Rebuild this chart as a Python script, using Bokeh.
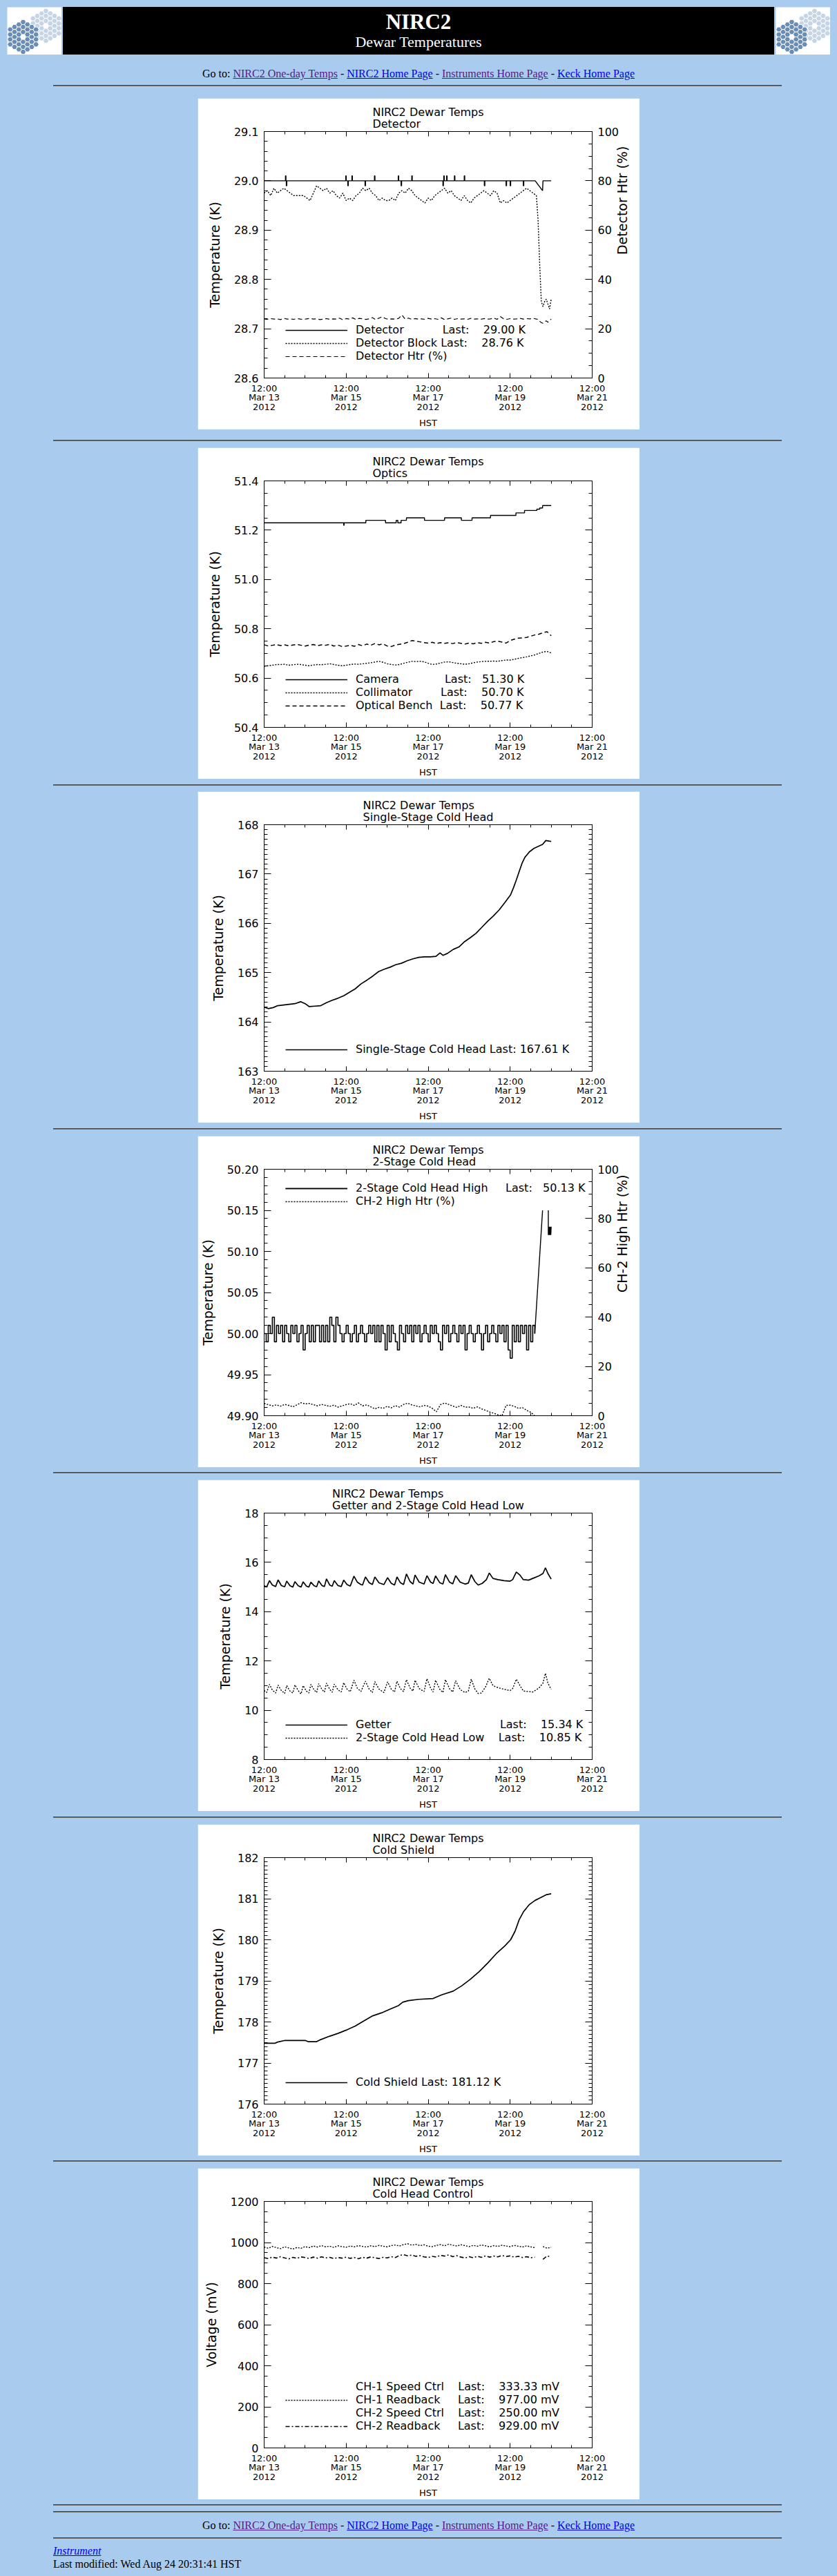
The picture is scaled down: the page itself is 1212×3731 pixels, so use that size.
import numpy as np
from math import pi
from bokeh.plotting import figure
from bokeh.models import (Range1d, LinearAxis, FixedTicker, PrintfTickFormatter,
                          Legend, LegendItem, Div, Title)
from bokeh.layouts import column, row
from bokeh.embed import file_html
from bokeh.resources import INLINE

FONT = "DejaVu Sans"
SERIF = "'Liberation Serif', 'Times New Roman', serif"
PAGE_BG = "#a9cbee"
NAN = float("nan")
NB = "\u00a0"

# ---------------- shared time axis: days since 12:00 HST, Mar 13 2012 ----------------
x_tick_days = [0, 2, 4, 6, 8]
x_tick_labels = ["12:00\nMar 13\n2012", "12:00\nMar 15\n2012", "12:00\nMar 17\n2012",
                 "12:00\nMar 19\n2012", "12:00\nMar 21\n2012"]
x_minor_days = [i * 0.5 for i in range(17)]

# ---------------- Chart 1: Detector ----------------
det_base = 29.00
det_spike_t = [0.52, 0.54, 1.99, 2.04, 2.14, 2.46, 2.69, 3.27, 3.34, 3.60, 4.36, 4.38,
               4.45, 4.64, 4.88, 5.37, 5.90, 6.00, 6.32]
det_spike_v = [29.01, 28.99, 29.01, 28.99, 29.01, 28.99, 29.01, 29.01, 28.99, 29.01, 28.99, 29.01,
               29.01, 29.01, 29.01, 28.99, 28.99, 28.99, 28.99]
det_tail_t = [6.61, 6.79, 6.80, 7.00]
det_tail_v = [29.00, 28.98, 29.00, 29.00]

blk_dt = 0.08
blk_v = [28.975, 28.98, 28.97, 28.985, 28.975, 28.98, 28.985,
         28.98, 28.975, 28.97, 28.97, 28.97, 28.97, 28.965,
         28.96, 28.975, 28.99,
         28.985, 28.98, 28.985, 28.975, 28.98,
         28.97, 28.965, 28.975, 28.96, 28.965, 28.96,
         28.97, 28.975, 28.985, 28.98, 28.985, 28.975, 28.97,
         28.96, 28.965, 28.96, 28.96, 28.965, 28.96, 28.975,
         28.98, 28.975, 28.985, 28.98, 28.97, 28.965,
         28.96, 28.955, 28.965, 28.96, 28.97,
         28.975, 28.98, 28.985, 28.975, 28.98, 28.97,
         28.965, 28.96, 28.97, 28.96, 28.955, 28.965, 28.97,
         28.975, 28.98, 28.975, 28.97, 28.98, 28.975,
         28.955, 28.96, 28.955, 28.96, 28.965,
         28.97, 28.975, 28.98, 28.985, 28.98, 28.975, 28.97]
blk_tail_t = [6.68, 6.72, 6.76, 6.80, 6.84, 6.88, 6.92, 6.96, 7.00]
blk_tail_v = [28.92, 28.83, 28.755, 28.745, 28.755, 28.76, 28.75, 28.74, 28.76]

htr_dt = 0.08
htr_v = [24.0, 23.8, 24.1, 23.9, 24.0, 23.7, 24.2, 23.9, 24.0, 23.8, 24.1, 23.9,
         23.8, 24.0, 24.2, 23.9, 24.0, 23.7, 23.9, 24.1, 23.8, 24.0, 23.9, 24.3,
         23.6, 24.1, 23.9, 24.4, 23.7, 24.2, 24.0, 23.8, 24.0, 24.5, 23.7, 24.3,
         24.9, 24.1, 23.8, 24.0, 23.9, 24.2, 25.6, 23.9, 24.3, 23.8, 24.1, 23.9,
         24.0, 23.8, 24.2, 23.9, 24.1, 23.8, 24.4, 23.7, 24.0, 24.3, 23.8, 24.1,
         23.9, 24.0, 23.8, 24.2, 23.9, 24.0, 23.8, 24.1, 23.9, 24.0, 24.3, 23.8,
         24.9, 24.0, 23.8, 24.1, 23.9, 24.0, 24.2, 23.9, 24.1, 24.0, 24.2, 23.9]
htr_tail_t = [6.68, 6.72, 6.76, 6.80, 6.84, 6.88, 6.92, 6.96, 7.00]
htr_tail_v = [23.8, 23.0, 22.5, 22.2, 22.8, 23.2, 22.6, 23.4, 23.9]

# ---------------- Chart 2: Optics ----------------
cam_t = [0.00, 1.94, 1.95, 2.48, 2.96, 3.22, 3.26, 3.34, 3.47, 3.91, 4.40, 4.81, 5.07,
         5.52, 6.14, 6.35, 6.65, 6.72, 6.79, 7.00]
cam_v = [51.23, 51.22, 51.23, 51.24, 51.23, 51.24, 51.23, 51.24, 51.25, 51.24, 51.25, 51.24, 51.25,
         51.26, 51.27, 51.28, 51.285, 51.29, 51.30, 51.30]
col_dt = 0.1
col_v = [50.648, 50.650, 50.652, 50.655, 50.655, 50.656, 50.652, 50.654, 50.656, 50.655,
         50.652, 50.650, 50.653, 50.655, 50.654, 50.656, 50.658, 50.655, 50.652, 50.650,
         50.652, 50.655, 50.657, 50.656, 50.658, 50.660, 50.662, 50.665, 50.668, 50.664,
         50.658, 50.655, 50.653, 50.655, 50.660, 50.664, 50.668, 50.667, 50.668, 50.666,
         50.660, 50.655, 50.657, 50.661, 50.665, 50.666, 50.663, 50.660, 50.658, 50.656,
         50.658, 50.662, 50.665, 50.667, 50.668, 50.668, 50.669, 50.668, 50.671, 50.673,
         50.673, 50.676, 50.680, 50.683, 50.686, 50.690, 50.694, 50.700, 50.706, 50.708,
         50.702]
ob_dt = 0.1
ob_v = [50.735, 50.730, 50.733, 50.736, 50.732, 50.735, 50.731, 50.734, 50.737, 50.733,
        50.730, 50.734, 50.736, 50.731, 50.735, 50.733, 50.737, 50.730, 50.734, 50.728,
        50.730, 50.733, 50.729, 50.736, 50.731, 50.738, 50.733, 50.740, 50.735, 50.739,
        50.730, 50.728, 50.734, 50.737, 50.740, 50.745, 50.752, 50.750, 50.747, 50.744,
        50.742, 50.745, 50.740, 50.744, 50.741, 50.743, 50.740, 50.744, 50.741, 50.738,
        50.742, 50.739, 50.744, 50.741, 50.745, 50.742, 50.748, 50.750, 50.746, 50.742,
        50.752, 50.758, 50.762, 50.763, 50.765, 50.770, 50.775, 50.778, 50.784, 50.788,
        50.772]

# ---------------- Chart 3: Single-Stage Cold Head ----------------
ss_pts = [(0.00, 164.30), (0.10, 164.27), (0.22, 164.29), (0.33, 164.33), (0.54, 164.35),
          (0.75, 164.37), (0.89, 164.41), (1.00, 164.37), (1.10, 164.31), (1.24, 164.32),
          (1.38, 164.33), (1.52, 164.39), (1.66, 164.44), (1.80, 164.48), (1.94, 164.53),
          (2.08, 164.60), (2.22, 164.67), (2.36, 164.77), (2.51, 164.85), (2.65, 164.93),
          (2.79, 165.02), (2.93, 165.07), (3.07, 165.11), (3.21, 165.16), (3.35, 165.19),
          (3.49, 165.24), (3.63, 165.28), (3.77, 165.31), (3.91, 165.32), (4.05, 165.32),
          (4.19, 165.33), (4.29, 165.40), (4.36, 165.35), (4.47, 165.39), (4.61, 165.47),
          (4.75, 165.52), (4.89, 165.63), (5.03, 165.71), (5.17, 165.80), (5.31, 165.92),
          (5.45, 166.04), (5.59, 166.15), (5.73, 166.27), (5.87, 166.42), (6.01, 166.58),
          (6.08, 166.72), (6.15, 166.88), (6.22, 167.05), (6.29, 167.22), (6.36, 167.34),
          (6.47, 167.45), (6.58, 167.52), (6.68, 167.56), (6.79, 167.60), (6.87, 167.68),
          (6.94, 167.67), (7.00, 167.66)]

# ---------------- Chart 4: 2-Stage Cold Head ----------------
hi_dt = 0.05
hi_v = [50.00, 49.99, 50.01, 50.00, 50.02, 49.99, 50.01, 50.00, 50.01, 49.99,
        50.01, 50.00, 49.99, 50.01, 50.00, 50.01, 49.99, 50.00, 50.01, 49.98,
        50.00, 50.01, 49.99, 50.01, 49.99, 50.01, 50.01, 49.99, 50.01, 49.99,
        50.01, 49.99, 50.02, 50.01, 49.99, 50.02, 50.01, 50.00, 49.99, 50.00,
        50.01, 50.00, 49.99, 50.00, 50.01, 49.99, 50.00, 50.01, 50.00, 49.99,
        50.00, 50.01, 50.00, 50.01, 49.99, 50.01, 49.99, 50.01, 50.00, 49.98,
        50.01, 49.99, 50.01, 50.00, 49.99, 49.98, 50.01, 50.00, 49.99, 50.01,
        50.00, 50.01, 49.99, 50.01, 50.00, 50.01, 49.99, 50.00, 50.01, 50.00,
        49.99, 50.01, 50.00, 50.01, 50.00, 49.99, 49.98, 50.01, 50.00, 50.01,
        49.99, 50.00, 50.01, 50.00, 49.99, 50.01, 50.00, 50.01, 49.98, 50.00,
        50.01, 50.00, 49.99, 50.00, 50.01, 50.00, 49.98, 50.00, 50.01, 49.99,
        50.00, 50.01, 50.00, 49.99, 50.01, 50.00, 50.01, 49.99, 50.01, 49.98,
        49.97, 50.01, 49.99, 50.01, 49.99, 50.01, 50.00, 50.01, 49.98, 50.01,
        49.99, 50.01, 50.00]
hi_tail_t = [6.60, 6.79, 6.80, 6.93, 6.93, 6.94, 6.95, 6.96, 6.97, 6.98, 6.99, 7.00]
hi_tail_v = [50.00, 50.15, NAN, 50.15, 50.12, 50.13, 50.12, 50.13, 50.12, 50.13, 50.12, 50.13]
ch2h_dt = 0.1
ch2h_v = [5.0, 4.5, 4.0, 4.4, 3.9, 4.6, 4.2, 3.6, 4.4, 5.3,
          4.8, 5.0, 4.5, 4.0, 4.6, 4.2, 3.8, 4.3, 3.5, 4.0,
          4.5, 4.9, 4.2, 5.2, 4.0, 4.4, 3.6, 2.8, 3.4, 3.0,
          3.8, 3.2, 4.1, 3.5, 4.6, 5.1, 4.4, 4.0, 3.6, 4.2,
          3.9, 3.0, 1.6, 4.5, 5.2, 4.6, 3.9, 3.4, 4.2, 3.5,
          3.5, 3.0, 3.6, 2.8, 2.2, 1.5, 1.0, 0.4, 0.0, 4.2,
          4.3, 3.8, 3.0, 3.3, 2.2, 1.4, 0.0]

# ---------------- Chart 5: Getter and 2-Stage Cold Head Low ----------------
getter_pts = [(0.00, 15.05), (0.06, 15.00), (0.13, 15.26), (0.20, 15.08), (0.28, 15.02),
              (0.34, 15.29), (0.42, 15.06), (0.50, 15.01), (0.55, 15.24), (0.63, 15.05),
              (0.70, 15.00), (0.75, 15.22), (0.83, 15.05), (0.90, 15.00), (0.95, 15.21),
              (1.03, 15.04), (1.09, 15.00), (1.14, 15.20), (1.22, 15.05), (1.28, 15.01),
              (1.33, 15.25), (1.41, 15.06), (1.47, 15.02), (1.52, 15.33), (1.60, 15.08),
              (1.66, 15.03), (1.71, 15.26), (1.80, 15.06), (1.88, 15.02), (1.94, 15.28),
              (2.02, 15.10), (2.10, 15.04), (2.19, 15.44), (2.27, 15.20), (2.36, 15.10),
              (2.40, 15.08), (2.47, 15.41), (2.56, 15.18), (2.64, 15.10), (2.70, 15.41),
              (2.80, 15.17), (2.92, 15.10), (3.01, 15.38), (3.10, 15.15), (3.18, 15.08),
              (3.24, 15.41), (3.32, 15.18), (3.40, 15.10), (3.47, 15.53), (3.56, 15.22),
              (3.63, 15.12), (3.68, 15.49), (3.78, 15.20), (3.90, 15.12), (3.97, 15.46),
              (4.06, 15.20), (4.12, 15.14), (4.18, 15.45), (4.28, 15.18), (4.36, 15.12),
              (4.42, 15.50), (4.52, 15.20), (4.60, 15.13), (4.67, 15.46), (4.78, 15.20),
              (4.90, 15.12), (4.98, 15.16), (5.05, 15.50), (5.14, 15.22), (5.22, 15.08),
              (5.32, 15.15), (5.42, 15.30), (5.49, 15.57), (5.58, 15.35), (5.70, 15.30),
              (5.85, 15.26), (6.00, 15.24), (6.06, 15.30), (6.15, 15.61), (6.24, 15.48),
              (6.32, 15.30), (6.45, 15.28), (6.55, 15.35), (6.70, 15.45), (6.80, 15.55),
              (6.86, 15.78), (6.92, 15.55), (7.00, 15.32)]
low_pts = [(0.00, 10.80), (0.06, 10.72), (0.13, 11.05), (0.20, 10.82), (0.28, 10.70),
           (0.34, 11.02), (0.42, 10.80), (0.50, 10.68), (0.55, 11.00), (0.63, 10.78),
           (0.70, 10.70), (0.75, 11.03), (0.83, 10.80), (0.90, 10.66), (0.95, 11.00),
           (1.03, 10.78), (1.09, 10.70), (1.14, 11.05), (1.22, 10.82), (1.28, 10.72),
           (1.33, 11.08), (1.41, 10.84), (1.47, 10.74), (1.52, 11.10), (1.60, 10.85),
           (1.66, 10.73), (1.71, 11.06), (1.80, 10.83), (1.88, 10.74), (1.94, 11.12),
           (2.02, 10.86), (2.10, 10.75), (2.19, 11.22), (2.27, 10.90), (2.36, 10.76),
           (2.47, 11.18), (2.56, 10.86), (2.64, 10.72), (2.70, 11.16), (2.80, 10.86),
           (2.92, 10.72), (3.01, 11.15), (3.10, 10.86), (3.18, 10.74), (3.24, 11.18),
           (3.32, 10.88), (3.40, 10.76), (3.47, 11.24), (3.56, 10.90), (3.63, 10.78),
           (3.68, 11.22), (3.78, 10.88), (3.90, 10.76), (3.97, 11.28), (4.06, 10.90),
           (4.12, 10.74), (4.18, 11.22), (4.28, 10.86), (4.36, 10.72), (4.42, 11.24),
           (4.52, 10.88), (4.60, 10.74), (4.67, 11.20), (4.78, 10.84), (4.90, 10.72),
           (4.98, 10.78), (5.05, 11.26), (5.14, 10.86), (5.22, 10.68), (5.30, 10.70),
           (5.40, 10.95), (5.49, 11.30), (5.58, 11.00), (5.70, 10.92), (5.85, 10.85),
           (6.00, 10.80), (6.06, 10.88), (6.15, 11.26), (6.24, 11.00), (6.32, 10.78),
           (6.45, 10.76), (6.55, 10.74), (6.70, 10.90), (6.80, 11.10), (6.86, 11.50),
           (6.92, 11.10), (7.00, 10.85)]

# ---------------- Chart 6: Cold Shield ----------------
shield_pts = [(0.00, 177.48), (0.26, 177.48), (0.33, 177.51), (0.51, 177.55), (1.00, 177.55),
              (1.07, 177.52), (1.28, 177.52), (1.38, 177.57), (1.59, 177.65), (1.80, 177.72),
              (2.00, 177.80), (2.22, 177.90), (2.44, 178.03), (2.65, 178.15), (2.86, 178.22),
              (3.07, 178.31), (3.28, 178.40), (3.38, 178.48), (3.52, 178.52), (3.77, 178.55),
              (4.12, 178.57), (4.33, 178.66), (4.61, 178.75), (4.82, 178.88), (5.03, 179.04),
              (5.24, 179.22), (5.45, 179.43), (5.66, 179.66), (5.87, 179.85), (6.01, 180.00),
              (6.12, 180.21), (6.22, 180.49), (6.33, 180.69), (6.47, 180.86), (6.61, 180.96),
              (6.75, 181.03), (6.89, 181.10), (7.00, 181.12)]

# ---------------- Chart 7: Cold Head Control ----------------
rb_dt = 0.1
ch1rb_v = [978, 972, 981, 975, 970, 979, 974, 968, 976, 972,
           980, 975, 983, 978, 985, 979, 982, 976, 984, 980,
           977, 983, 979, 985, 981, 978, 984, 980, 986, 982,
           979, 985, 988, 983, 990, 994, 987, 991, 985, 989,
           982, 980, 986, 990, 984, 992, 987, 983, 989, 985,
           980, 986, 982, 988, 984, 979, 985, 981, 987, 983,
           980, 986, 982, 978, 984, 979, 975]
ch1rb_tail_t = [6.70, 6.80, 6.90, 7.00]
ch1rb_tail_v = [NAN, 980, 972, 977]
ch2rb_v = [926, 922, 929, 924, 931, 925, 920, 928, 923, 930,
           927, 922, 929, 924, 930, 925, 928, 922, 927, 924,
           929, 923, 927, 921, 928, 924, 930, 926, 922, 928,
           925, 931, 927, 937, 941, 935, 939, 933, 936, 930,
           927, 933, 929, 938, 934, 940, 931, 936, 929, 925,
           931, 926, 933, 928, 935, 929, 934, 930, 937, 932,
           935, 929, 933, 927, 931, 926, 929]
ch2rb_tail_t = [6.70, 6.80, 6.90, 7.00]
ch2rb_tail_v = [NAN, 918, 935, 929]

# ---------------- legend texts ----------------
leg1 = ["Detector" + NB * 11 + "Last:" + NB * 4 + "29.00 K",
        "Detector Block" + NB + "Last:" + NB * 4 + "28.76 K",
        "Detector Htr (%)"]
leg2 = ["Camera" + NB * 13 + "Last:" + NB * 3 + "51.30 K",
        "Collimator" + NB * 8 + "Last:" + NB * 4 + "50.70 K",
        "Optical Bench" + NB * 2 + "Last:" + NB * 4 + "50.77 K"]
leg3 = ["Single-Stage Cold Head Last: 167.61 K"]
leg4 = ["2-Stage Cold Head High" + NB * 5 + "Last:" + NB * 3 + "50.13 K",
        "CH-2 High Htr (%)"]
leg5 = ["Getter" + NB * 31 + "Last:" + NB * 4 + "15.34 K",
        "2-Stage Cold Head Low" + NB * 4 + "Last:" + NB * 4 + "10.85 K"]
leg6 = ["Cold Shield Last: 181.12 K"]
leg7 = ["CH-1 Speed Ctrl" + NB * 4 + "Last:" + NB * 4 + "333.33 mV",
        "CH-1 Readback" + NB * 5 + "Last:" + NB * 4 + "977.00 mV",
        "CH-2 Speed Ctrl" + NB * 4 + "Last:" + NB * 4 + "250.00 mV",
        "CH-2 Readback" + NB * 5 + "Last:" + NB * 4 + "929.00 mV"]

DOT = "2 2"
DASH = "6 4"
DASHDOT = "6 3 2 3"
LW = 1.4


# ====================================================================================
def grid_t(vals, dt):
    return [i * dt for i in range(len(vals))]


def ticks(a, b, step):
    n = int(round((b - a) / step))
    return [round(a + i * step, 6) for i in range(n + 1)]


def style_axis(ax, maj, mnr, size="16px", standoff=8):
    ax.axis_line_color = "black"
    ax.axis_line_width = 1
    ax.major_tick_line_color = "black"
    ax.minor_tick_line_color = "black"
    ax.major_tick_in = maj
    ax.major_tick_out = 0
    ax.minor_tick_in = mnr
    ax.minor_tick_out = 0
    ax.major_label_text_font = FONT
    ax.major_label_text_font_size = size
    ax.major_label_text_color = "black"
    ax.major_label_standoff = standoff
    ax.axis_label_text_font = FONT
    ax.axis_label_text_font_style = "normal"
    ax.axis_label_text_color = "black"


def make_chart(subtitle, y0, y1, ymaj, ymnr, yfmt, ylabel, pct_label=None):
    p = figure(width=640, height=480, output_backend="svg", toolbar_location=None,
               x_range=Range1d(0, 8), y_range=Range1d(y0, y1),
               x_axis_location=None, y_axis_location=None,
               min_border_left=96, min_border_right=64, min_border_top=48, min_border_bottom=73,
               background_fill_color="white", border_fill_color="white",
               outline_line_color="black", margin=(0, 0, 0, 278))
    p.xgrid.visible = False
    p.ygrid.visible = False
    p.title = Title(text="NIRC2 Dewar Temps\n" + subtitle, align="center", offset=16,
                    text_font=FONT, text_font_size="16px", text_font_style="normal",
                    text_color="black", text_line_height=0.92, standoff=3)

    xt = FixedTicker(ticks=x_tick_days, minor_ticks=x_minor_days)
    bottom = LinearAxis(ticker=xt, axis_label="HST",
                        major_label_overrides=dict(zip(x_tick_days, x_tick_labels)))
    style_axis(bottom, 7, 4, "13px", 7)
    bottom.major_label_text_line_height = 0.9
    bottom.axis_label_text_font_size = "13px"
    bottom.axis_label_standoff = 5
    p.add_layout(bottom, "below")

    top = LinearAxis(ticker=xt, major_label_overrides={d: "" for d in x_tick_days})
    style_axis(top, 7, 4, "1px", 0)
    p.add_layout(top, "above")

    yt = FixedTicker(ticks=ticks(y0, y1, ymaj), minor_ticks=ticks(y0, y1, ymnr))
    left = LinearAxis(ticker=yt, formatter=PrintfTickFormatter(format=yfmt), axis_label=ylabel)
    style_axis(left, 10, 5)
    left.axis_label_text_font_size = "19px"
    left.axis_label_standoff = 14
    p.add_layout(left, "left")

    if pct_label is not None:
        p.extra_y_ranges = {"pct": Range1d(0, 100)}
        right = LinearAxis(y_range_name="pct", axis_label=pct_label,
                           ticker=FixedTicker(ticks=ticks(0, 100, 20), minor_ticks=ticks(0, 100, 5)))
        style_axis(right, 10, 5)
        right.axis_label_text_font_size = "19px"
        right.axis_label_standoff = 2
        right.axis_label_orientation = pi / 2
        p.add_layout(right, "right")
    else:
        right = LinearAxis(ticker=yt, major_label_overrides={t: "" for t in ticks(y0, y1, ymaj)})
        style_axis(right, 10, 5, "1px", 0)
        p.add_layout(right, "right")
    return p


def add_legend(p, labels, renderers, loc):
    items = [LegendItem(label=l, renderers=r) for l, r in zip(labels, renderers)]
    lg = Legend(items=items, location=loc, glyph_width=90, glyph_height=18, label_height=18,
                label_standoff=12, spacing=0, padding=0, margin=0, border_line_color=None,
                background_fill_alpha=0, label_text_font=FONT, label_text_font_size="16px",
                label_text_color="black")
    p.add_layout(lg)


# ---------------- Chart 1 ----------------
p1 = make_chart("Detector", 28.6, 29.1, 0.1, 0.02, "%.1f", "Temperature (K)", "Detector Htr (%)")
det_x, det_y = [0.0], [det_base]
for t, v in zip(det_spike_t, det_spike_v):
    det_x += [t, t, t + 0.012, t + 0.012]
    det_y += [det_base, v, v, det_base]
det_x += det_tail_t
det_y += det_tail_v
r_det = p1.line(det_x, det_y, line_color="black", line_width=LW)
r_blk = p1.line(grid_t(blk_v, blk_dt) + blk_tail_t, blk_v + blk_tail_v, line_color="black",
                line_width=1.4, line_dash=DOT)
r_htr = p1.line(grid_t(htr_v, htr_dt) + htr_tail_t, htr_v + htr_tail_v, line_color="black",
                line_width=1.2, line_dash=DASH, y_range_name="pct")
add_legend(p1, leg1, [[r_det], [r_blk], [r_htr]], (31, 22))

# ---------------- Chart 2 ----------------
p2 = make_chart("Optics", 50.4, 51.4, 0.2, 0.05, "%.1f", "Temperature (K)")
r_cam = p2.step(cam_t, cam_v, mode="after", line_color="black", line_width=LW)
r_col = p2.line(grid_t(col_v, col_dt), col_v, line_color="black", line_width=1.4, line_dash=DOT)
r_ob = p2.line(grid_t(ob_v, ob_dt), ob_v, line_color="black", line_width=1.5, line_dash=DASH)
add_legend(p2, leg2, [[r_cam], [r_col], [r_ob]], (31, 22))

# ---------------- Chart 3 ----------------
p3 = make_chart("Single-Stage Cold Head", 163, 168, 1, 0.1, "%d", "Temperature (K)")
r_ss = p3.line([a for a, b in ss_pts], [b for a, b in ss_pts], line_color="black", line_width=1.7)
add_legend(p3, leg3, [[r_ss]], (31, 22))

# ---------------- Chart 4 ----------------
p4 = make_chart("2-Stage Cold Head", 49.90, 50.20, 0.05, 0.01, "%.2f", "Temperature (K)",
                "CH-2 High Htr (%)")
r_hi = p4.step(grid_t(hi_v, hi_dt), hi_v, mode="after", line_color="black", line_width=1.6)
r_hi2 = p4.line(hi_tail_t, hi_tail_v, line_color="black", line_width=LW)
r_ch2h = p4.line(grid_t(ch2h_v, ch2h_dt), ch2h_v, line_color="black", line_width=1.4,
                 line_dash=DOT, y_range_name="pct")
add_legend(p4, leg4, [[r_hi, r_hi2], [r_ch2h]], (31, 301))

# ---------------- Chart 5 ----------------
p5 = make_chart("Getter and 2-Stage Cold Head Low", 8, 18, 2, 0.5, "%d", "Temperature (K)")
r_get = p5.line([a for a, b in getter_pts], [b for a, b in getter_pts], line_color="black",
                line_width=1.7)
r_low = p5.line([a for a, b in low_pts], [b for a, b in low_pts], line_color="black",
                line_width=1.4, line_dash=DOT)
add_legend(p5, leg5, [[r_get], [r_low]], (31, 22))

# ---------------- Chart 6 ----------------
p6 = make_chart("Cold Shield", 176, 182, 1, 0.1, "%d", "Temperature (K)")
r_sh = p6.line([a for a, b in shield_pts], [b for a, b in shield_pts], line_color="black",
               line_width=1.7)
add_legend(p6, leg6, [[r_sh]], (31, 22))

# ---------------- Chart 7 ----------------
p7 = make_chart("Cold Head Control", 0, 1200, 200, 50, "%d", "Voltage (mV)")
r_s1 = p7.line([], [], line_color="black", line_width=LW)
r_rb1 = p7.line(grid_t(ch1rb_v, rb_dt) + ch1rb_tail_t, ch1rb_v + ch1rb_tail_v, line_color="black",
                line_width=1.4, line_dash=DOT)
r_s2 = p7.line([], [], line_color="black", line_width=1.2, line_dash=DASH)
r_rb2 = p7.line(grid_t(ch2rb_v, rb_dt) + ch2rb_tail_t, ch2rb_v + ch2rb_tail_v, line_color="black",
                line_width=1.6, line_dash=DASHDOT)
add_legend(p7, leg7, [[r_s1], [r_rb1], [r_s2], [r_rb2]], (31, 22))


# ---------------- page furniture ----------------
def hex_cluster(cx, cy, s):
    xs, ys = [], []
    ang = np.arange(6) * np.pi / 3
    for q in range(-3, 4):
        for r in range(-3, 4):
            d = max(abs(q), abs(r), abs(q + r))
            if 1 <= d <= 3:
                hx = cx + 1.5 * s * q
                hy = cy + np.sqrt(3) * s * (r + q / 2)
                xs.append((hx + s * np.cos(ang)).tolist())
                ys.append((hy + s * np.sin(ang)).tolist())
    return xs, ys


def make_logo():
    lp = figure(width=79, height=69, output_backend="svg", toolbar_location=None,
                x_range=Range1d(0, 79), y_range=Range1d(69, 0), min_border=0,
                x_axis_location=None, y_axis_location=None, outline_line_color=None,
                background_fill_color="white", border_fill_color="white", margin=(0, 0, 0, 0))
    lp.xgrid.visible = False
    lp.ygrid.visible = False
    xs, ys = hex_cluster(56, 27, 4.15)
    lp.patches(xs, ys, fill_color="#c5d5e6", line_color="white", line_width=1)
    xs, ys = hex_cluster(23, 43, 4.15)
    lp.patches(xs, ys, fill_color="#6a8db6", line_color="white", line_width=1)
    return lp


banner = Div(width=1030, height=69, margin=(0, 0, 0, 0), text=(
    '<div style="position:relative;width:1030px;height:69px;background:#000;overflow:hidden;'
    'color:#fff;text-align:center;font-family:%s">'
    '<div style="position:absolute;left:0;width:1030px;top:6px;font-size:31px;line-height:31px;'
    'font-weight:bold">NIRC2</div>'
    '<div style="position:absolute;left:0;width:1030px;top:40px;font-size:22px;line-height:22px">'
    'Dewar Temperatures</div></div>' % SERIF))
header = row(make_logo(), banner, make_logo(), spacing=2, margin=(2, 0, 0, 2))

LV = "color:#551a8b;text-decoration:underline"
LU = "color:#0000ee;text-decoration:underline"
goto = ('Go to: <span style="%s">NIRC2 One-day Temps</span> - <span style="%s">NIRC2 Home Page</span>'
        ' - <span style="%s">Instruments Home Page</span> - <span style="%s">Keck Home Page</span>'
        % (LV, LU, LV, LU))


def hr(top):
    return ('<div style="position:absolute;left:69px;top:%dpx;width:1055px;height:0;'
            'border-top:1px solid #4a4a4a;border-bottom:1px solid #6c6c6c"></div>' % top)


def tline(top, html, left=None):
    pos = "left:0;width:1196px;text-align:center" if left is None else "left:%dpx" % left
    return ('<div style="position:absolute;%s;top:%dpx;font-family:%s;font-size:16px;'
            'line-height:16px;color:#000;white-space:nowrap">%s</div>' % (pos, top, SERIF, html))


def block(height, inner):
    return Div(width=1196, height=height, margin=(0, 0, 0, 0),
               text='<div style="position:relative;width:1196px;height:%dpx">%s</div>' % (height, inner))


top_nav = block(63, tline(20, goto) + hr(44))
gaps = [block(26, hr(15)), block(18, hr(8)), block(19, hr(8)), block(18, hr(7)),
        block(19, hr(8)), block(18, hr(7))]
footer = block(103, hr(7) + hr(17) + tline(30, goto) + hr(55) +
               tline(67, '<span style="color:#0000ee;font-style:italic;text-decoration:underline">'
                         'Instrument</span>', left=69) +
               tline(86, 'Last modified: Wed Aug 24 20:31:41 HST', left=69))

charts = [p1, p2, p3, p4, p5, p6, p7]
children = [header, top_nav]
for i, c in enumerate(charts):
    children.append(c)
    if i < len(gaps):
        children.append(gaps[i])
children.append(footer)
page = column(*children, spacing=0)

html = file_html(page, INLINE, title="NIRC2 Dewar Temperatures")
html = html.replace("</head>", "<style>html,body{background-color:%s;margin:0;}"
                               "body{margin:8px;}</style></head>" % PAGE_BG, 1)
open("out.html", "w").write(html)
